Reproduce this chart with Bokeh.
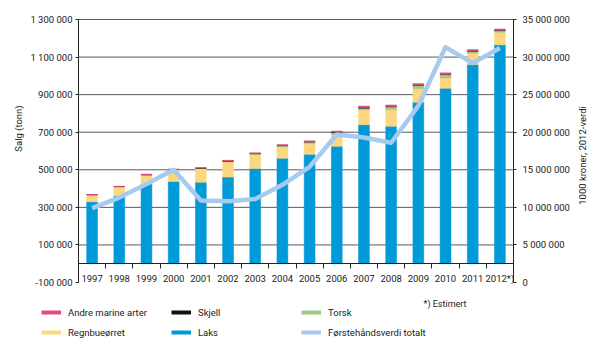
import math
import numpy as np
from bokeh.plotting import figure
from bokeh.models import (Range1d, LinearAxis, FixedTicker, Legend, LegendItem,
                          ColumnDataSource, Label)
from bokeh.embed import file_html
from bokeh.resources import INLINE

# ---------------- data ----------------
years = ["1997", "1998", "1999", "2000", "2001", "2002", "2003", "2004",
         "2005", "2006", "2007", "2008", "2009", "2010", "2011", "2012*)"]
laks = [330000, 360000, 425000, 438000, 434000, 461000, 507000, 562000,
        583000, 625000, 740000, 732000, 860000, 934000, 1060000, 1165000]
regnbueorret = [37000, 50000, 48000, 62000, 73000, 83000, 75000, 62000,
                57000, 63000, 79000, 87000, 72000, 55000, 60000, 67000]
torsk = [200, 300, 200, 1000, 1000, 1500, 3000, 3500,
         7500, 10000, 9000, 16000, 18000, 18000, 11000, 9000]
skjell = [500, 500, 800, 800, 1000, 1500, 2000, 2000,
          2000, 2500, 3000, 2000, 2000, 2000, 2000, 2000]
andre = [1000, 1000, 3000, 2000, 3000, 3500, 3500, 4500,
         5000, 6000, 8000, 8000, 7000, 7000, 7000, 7000]
forstehandsverdi = [9900000, 11300000, 13100000, 15000000, 10900000, 10800000,
                    11100000, 13000000, 15400000, 19700000, 19300000, 18600000,
                    23500000, 31300000, 29200000, 31200000]

left_ticks = [-100000, 100000, 300000, 500000, 700000, 900000, 1100000, 1300000]
left_tick_labels = ["-100 000", "100 000", "300 000", "500 000", "700 000",
                    "900 000", "1 100 000", "1 300 000"]
right_ticks = [0, 5000000, 10000000, 15000000, 20000000, 25000000, 30000000, 35000000]
right_tick_labels = ["0", "5 000 000", "10 000 000", "15 000 000", "20 000 000",
                     "25 000 000", "30 000 000", "35 000 000"]

series_names = ["Laks", "Regnbueørret", "Torsk", "Skjell", "Andre marine arter"]
series_colors = ["#009ad8", "#fdd77f", "#a0c982", "#111111", "#e84a7f"]
line_name = "Førstehåndsverdi totalt"
line_color = "#a6cbee"
left_title = "Salg (tonn)"
right_title = "1000 kroner, 2012-verdi"
footnote = "*) Estimert"

FONT = "Roboto"
FS = "9.5px"
TXT = "#1a1a1a"

# ---------------- layout (pixels) ----------------
W, H = 600, 352
PL, PR, PT, PB = 78, 513, 19, 282   # plot area in canvas pixels

n = len(years)
xs_per_px = n / (PR - PL)
x_start = -0.5 - PL * xs_per_px
x_end = n - 0.5 + (W - PR) * xs_per_px

ly0, ly1 = left_ticks[0], left_ticks[-1]
ly_per_px = (ly1 - ly0) / (PB - PT)
y_start = ly0 - (H - PB) * ly_per_px
y_end = ly1 + PT * ly_per_px

ry0, ry1 = right_ticks[0], right_ticks[-1]
ry_per_px = (ry1 - ry0) / (PB - PT)
ry_start = ry0 - (H - PB) * ry_per_px
ry_end = ry1 + PT * ry_per_px

# ---------------- figure ----------------
x = list(range(n))
source = ColumnDataSource(dict(
    x=x, Laks=laks, Regnbueørret=regnbueorret, Torsk=torsk, Skjell=skjell,
    **{"Andre marine arter": andre}, verdi=forstehandsverdi))

p = figure(width=W, height=H, output_backend="svg", toolbar_location=None,
           x_range=Range1d(x_start, x_end), y_range=Range1d(y_start, y_end),
           min_border_left=0, min_border_right=0, min_border_top=0,
           min_border_bottom=0, x_axis_location=None, y_axis_location=None)
p.outline_line_color = None
p.border_fill_color = "white"
p.xgrid.visible = False
p.ygrid.visible = False
p.extra_y_ranges = {"right": Range1d(ry_start, ry_end)}

# horizontal grid lines across the plot area
grid_y = left_ticks[1:]
p.segment(x0=[-0.5] * len(grid_y), x1=[n - 0.5] * len(grid_y), y0=grid_y, y1=grid_y,
          line_color="#5a5a5a", line_width=1)

# bars
p.vbar_stack(series_names, x="x", width=0.4, source=source,
             color=series_colors, line_color=series_colors, line_width=0.5)
# line
p.line(x="x", y="verdi", source=source, y_range_name="right",
       line_color=line_color, line_width=4.5, line_join="round")

# x axis at y = 0
xaxis = LinearAxis(fixed_location=0, bounds=(-0.5, n - 0.5))
xaxis.ticker = FixedTicker(ticks=x, minor_ticks=[i - 0.5 for i in range(n + 1)])
xaxis.major_label_overrides = {i: y for i, y in enumerate(years)}
xaxis.major_tick_out = 0
xaxis.major_tick_in = 0
xaxis.minor_tick_out = 5
xaxis.minor_tick_in = 0
xaxis.minor_tick_line_color = "#222222"
xaxis.axis_line_color = "#222222"
xaxis.major_label_standoff = 4
xaxis.major_label_text_font = FONT
xaxis.major_label_text_font_size = FS
xaxis.major_label_text_color = TXT
p.add_layout(xaxis, "below")

# left axis
yl = LinearAxis(fixed_location=-0.5, bounds=(ly0, ly1))
yl.ticker = FixedTicker(ticks=left_ticks)
yl.major_label_overrides = {t: l for t, l in zip(left_ticks, left_tick_labels)}
yl.major_tick_out = 3
yl.major_tick_in = 0
yl.minor_tick_out = 0
yl.minor_tick_in = 0
yl.major_label_standoff = 3
yl.axis_line_color = "#222222"
yl.major_tick_line_color = "#222222"
yl.major_label_text_font = FONT
yl.major_label_text_font_size = FS
yl.major_label_text_color = TXT
p.add_layout(yl, "left")

# right axis
yr = LinearAxis(y_range_name="right", fixed_location=n - 0.5, bounds=(ry0, ry1))
yr.ticker = FixedTicker(ticks=right_ticks)
yr.major_label_overrides = {t: l for t, l in zip(right_ticks, right_tick_labels)}
yr.major_tick_out = 3
yr.major_tick_in = 0
yr.minor_tick_out = 0
yr.minor_tick_in = 0
yr.major_label_standoff = 6
yr.axis_line_color = "#222222"
yr.major_tick_line_color = "#222222"
yr.major_label_text_font = FONT
yr.major_label_text_font_size = FS
yr.major_label_text_color = TXT
p.add_layout(yr, "right")

# axis titles
p.add_layout(Label(x=18, y=H - 128, x_units="screen", y_units="screen",
                   text=left_title, angle=math.pi / 2, text_align="center",
                   text_baseline="middle", text_font=FONT, text_font_size=FS,
                   text_color=TXT))
p.add_layout(Label(x=582, y=H - 155, x_units="screen", y_units="screen",
                   text=right_title, angle=math.pi / 2, text_align="center",
                   text_baseline="middle", text_font=FONT, text_font_size=FS,
                   text_color=TXT))

# footnote
p.add_layout(Label(x=423, y=H - 303, x_units="screen", y_units="screen",
                   text=footnote, text_font=FONT, text_font_size="9px",
                   text_baseline="middle", text_color=TXT))

# legend (swatches as thick lines; one NaN point so the swatch is drawn)
sw = {}
for name, col in zip(series_names + [line_name], series_colors + [line_color]):
    sw[name] = p.line(x=[np.nan], y=[np.nan], line_color=col, line_width=4)
order = ["Andre marine arter", "Skjell", "Torsk", "Regnbueørret", "Laks", line_name]
legend = Legend(items=[LegendItem(label=nm, renderers=[sw[nm]]) for nm in order],
                orientation="horizontal", ncols=3, location=(41, H - 339),
                glyph_width=20, glyph_height=14, label_height=14, label_width=97,
                label_standoff=7, spacing=6, padding=0, margin=0,
                border_line_color=None, background_fill_alpha=0,
                label_text_font=FONT, label_text_font_size=FS,
                label_text_color=TXT)
p.add_layout(legend, "center")

open("out.html", "w").write(file_html(p, INLINE))
